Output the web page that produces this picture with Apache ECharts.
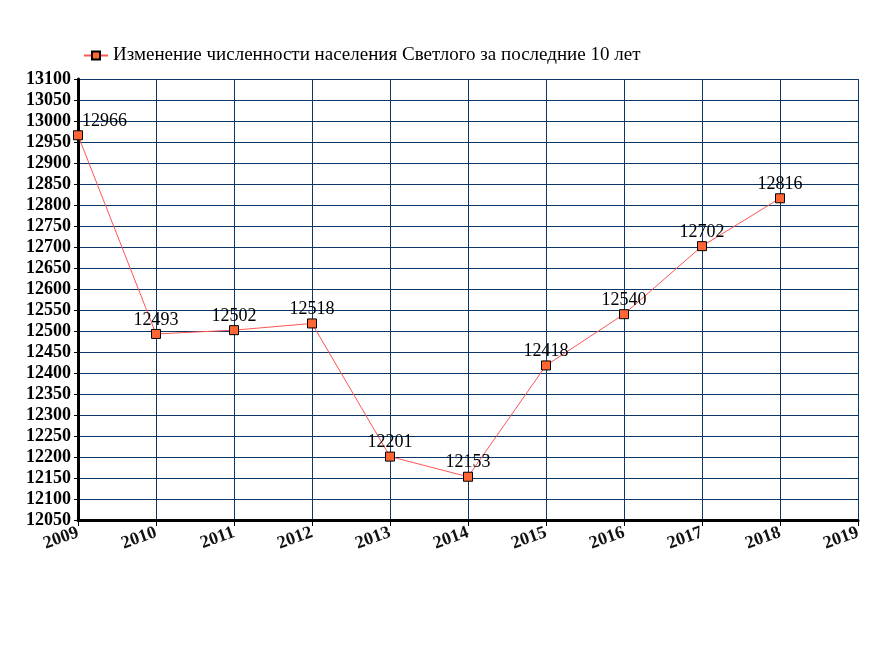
<!DOCTYPE html>
<html><head><meta charset="utf-8">
<script src="https://cdn.jsdelivr.net/npm/echarts@6/dist/echarts.min.js"></script>
<style>html,body{margin:0;padding:0;background:#fff}#c{width:884px;height:650px}</style>
</head><body><div id="c"></div>
<script>
const years = ['2009','2010','2011','2012','2013','2014','2015','2016','2017','2018','2019'];
const population = [12966,12493,12502,12518,12201,12153,12418,12540,12702,12816,null];
const seriesName = 'Изменение численности населения Светлого за последние 10 лет';

const chart = echarts.init(document.getElementById('c'));
const serif = '"Liberation Serif","DejaVu Serif",serif';
chart.setOption({
  animation:false,
  backgroundColor:'#fff',
  legend:{left:78,top:41,itemWidth:24,itemHeight:10,itemGap:6,
    textStyle:{fontFamily:serif,fontSize:19,color:'#000'},
    data:[{name:seriesName}]},
  grid:{left:78,right:26,top:79,bottom:130},
  xAxis:{type:'category',data:years,boundaryGap:false,
    axisLine:{lineStyle:{color:'#000',width:3}},
    axisTick:{show:true,length:6,lineStyle:{color:'#000',width:1}},
    splitLine:{show:true,lineStyle:{color:'#0a3768',width:1}},
    axisLabel:{rotate:20,margin:12,fontFamily:serif,fontSize:18,fontWeight:'bold',color:'#111'}},
  yAxis:{type:'value',min:12050,max:13100,interval:50,
    axisLine:{show:true,lineStyle:{color:'#000',width:3}},
    axisTick:{show:true,length:4,lineStyle:{color:'#000'}},
    splitLine:{show:true,lineStyle:{color:'#0a3768',width:1}},
    axisLabel:{margin:7,fontFamily:serif,fontSize:18,fontWeight:'bold',color:'#000',formatter:v=>String(v)}},
  series:[{
    name:seriesName,type:'line',data:population.map((v,i)=>i===0?{value:v,label:{position:'right',offset:[-1,-14]}}:v),
    symbol:'rect',symbolSize:9,
    itemStyle:{color:'#ff6633',borderColor:'#000',borderWidth:1},
    lineStyle:{color:'#ff5555',width:1},
    label:{show:true,position:'top',distance:0,fontFamily:serif,fontSize:18,color:'#000'}
  }]
});
</script></body></html>
